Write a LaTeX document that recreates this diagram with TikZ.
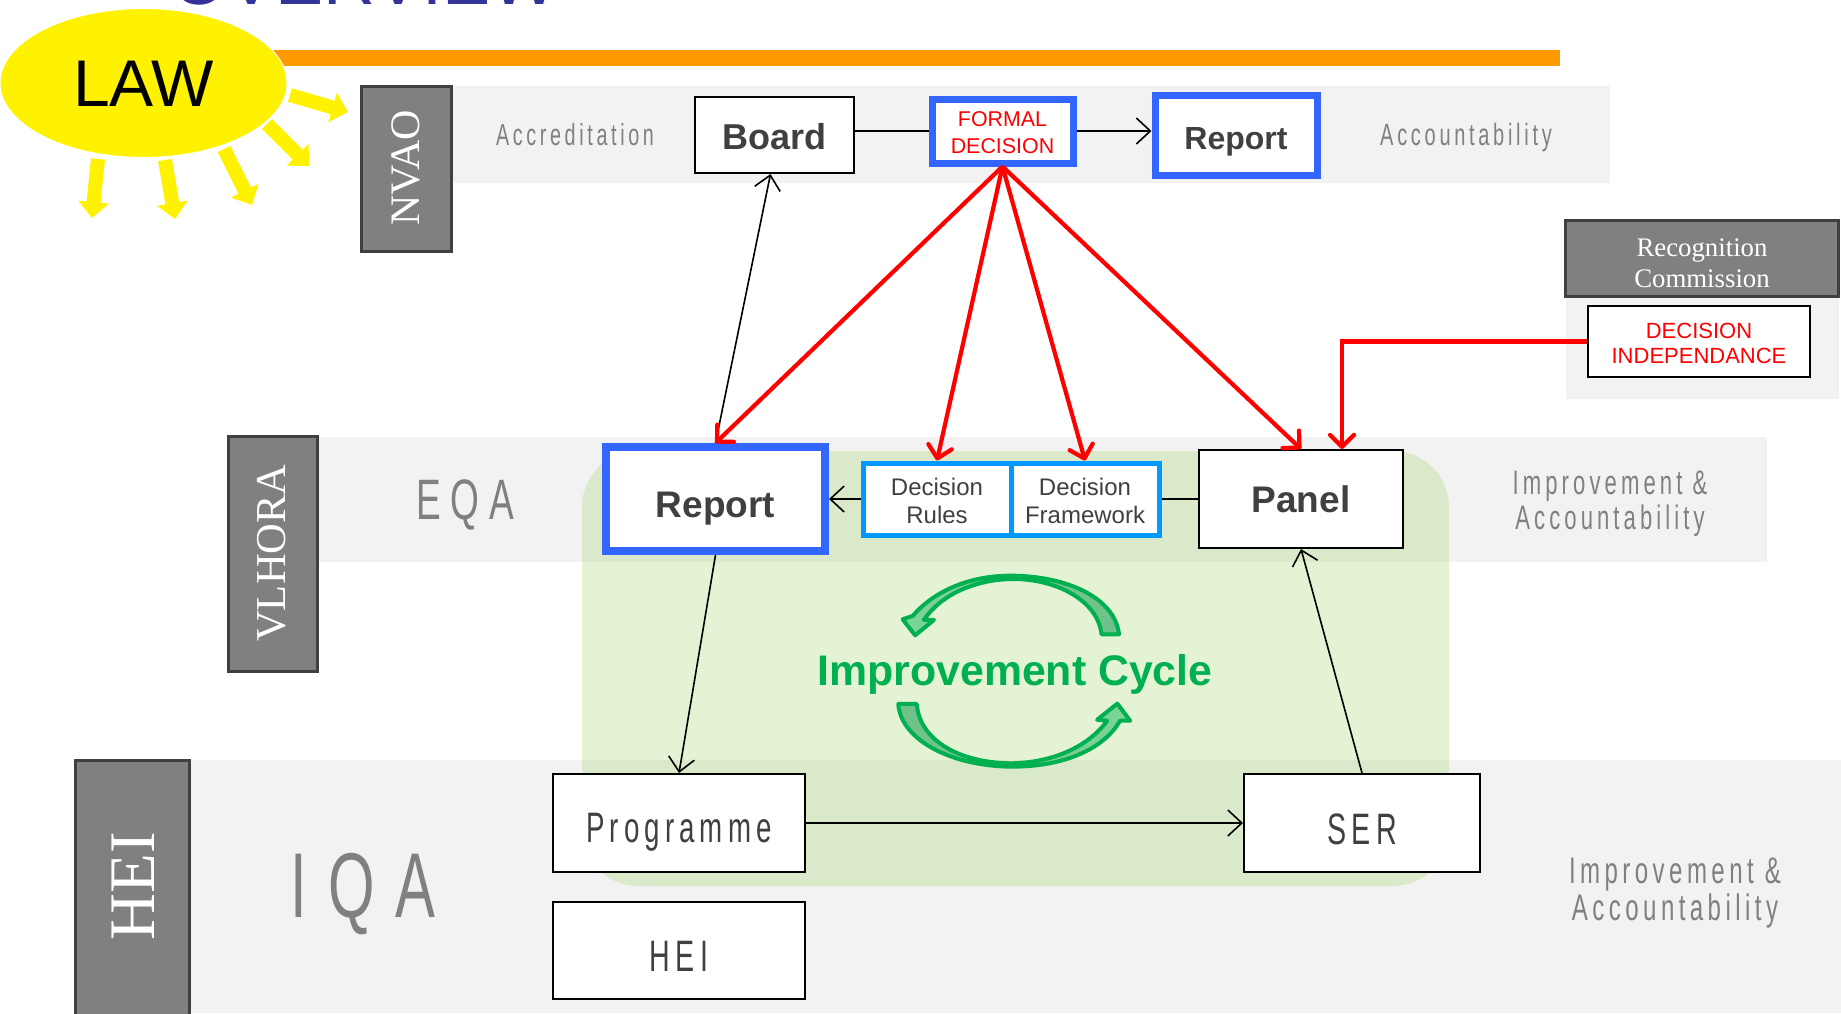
\documentclass[tikz,border=0pt]{standalone}
\usepackage{fontspec}
\usetikzlibrary{arrows.meta,calc,shapes.geometric}
\setmainfont{Liberation Sans}
\newfontfamily\serifx{Liberation Serif}
\newfontfamily\condx[FakeStretch=0.65,LetterSpace=12]{Liberation Sans}
\newfontfamily\condm[FakeStretch=0.65,LetterSpace=17]{Liberation Sans}
\newfontfamily\condl[FakeStretch=0.65,LetterSpace=23]{Liberation Sans}
\definecolor{bandgray}{HTML}{F2F2F2}
\definecolor{labelgray}{HTML}{808080}
\definecolor{darktext}{HTML}{404040}
\definecolor{boxgray}{HTML}{808080}
\definecolor{boxedge}{HTML}{404040}
\definecolor{orangebar}{HTML}{FF9900}
\definecolor{frameblue}{HTML}{3366FF}
\definecolor{lightblue}{HTML}{0099FF}
\definecolor{cyclegreen}{HTML}{00B050}
\definecolor{titleblue}{HTML}{333399}
\definecolor{cyclebg}{HTML}{92D050}
\definecolor{cycletail}{HTML}{6FC08A}
\definecolor{cyclehead}{HTML}{7BD597}
\newcommand{\dn}[2]{\raisebox{-#1}[0pt][0pt]{#2}}
\tikzset{
  band/.style={fill=bandgray,draw=none},
  orgbox/.style={draw=boxedge,fill=boxgray,line width=1.5pt,text=white,inner sep=0pt},
  plainbox/.style={draw=black,fill=white,line width=1pt,align=center,inner sep=0pt},
  bluebox/.style={draw=frameblue,fill=white,line width=3.5pt,align=center,inner sep=0pt,text=darktext},
  rulebox/.style={draw=lightblue,fill=white,line width=2.5pt,align=center,inner sep=0pt,text=darktext},
  graylabel/.style={text=labelgray,align=center,inner sep=0pt},
  conn/.style={draw=black,line width=0.8pt},
  connarrow/.style={conn,-{Straight Barb[length=7pt,width=13pt,line width=0.8pt]}},
  redarrow/.style={draw=red,line width=2.1pt,-{Straight Barb[length=6pt,width=12pt,line width=2.1pt,round]}},
  sunray/.style={draw=yellow,line width=7pt,-{Triangle[length=8pt,width=15pt,fill=yellow]}},
  cyclearrow/.style={draw=cyclegreen,line width=2pt,line join=round}
}
\begin{document}
\begin{tikzpicture}[x=0.5pt,y=-0.5pt]
\useasboundingbox (0,0) rectangle (1841,1013);
\clip (0,0) rectangle (1841,1013);
\fill[white] (0,0) rectangle (1841,1013);
% title clipped by the top of the page
\node[anchor=base,text=titleblue,inner sep=0pt,font=\fontsize{36}{36}\selectfont] (title) at (365,4) {OVERVIEW};
% orange rule
\fill[orangebar] (271,50) rectangle (1560,66);
% bands
\fill[band] (451,86) rectangle (1610,183);
\fill[band] (317,437) rectangle (1767,562);
\fill[band] (189,760) rectangle (1841,1013);
\fill[band] (1566,296) rectangle (1839,399);
% green improvement area
\fill[cyclebg,opacity=0.25,rounded corners=28pt] (582,451) rectangle (1449,886);
% law sun
\coordinate (r1a) at (290,95);  \coordinate (r1b) at (348,112);
\coordinate (r2a) at (267,124); \coordinate (r2b) at (309,166);
\coordinate (r3a) at (224,149); \coordinate (r3b) at (252,205);
\coordinate (r4a) at (165,160); \coordinate (r4b) at (175,219);
\coordinate (r5a) at (98,159);  \coordinate (r5b) at (92,218);
\draw[sunray] (r1a) -- (r1b);
\draw[sunray] (r2a) -- (r2b);
\draw[sunray] (r3a) -- (r3b);
\draw[sunray] (r4a) -- (r4b);
\draw[sunray] (r5a) -- (r5b);
\node[ellipse,fill=yellow,draw=white,line width=0.5pt,minimum width=143.5pt,minimum height=74.5pt,inner sep=0pt,font=\fontsize{33}{33}\selectfont] (law) at (143.5,83) {\dn{11.8pt}{LAW}};
% organisation boxes
\node[orgbox,minimum width=45pt,minimum height=82.5pt] (nvao) at (406,168.5) {};
\node[text=white,rotate=90,inner sep=0pt,font=\serifx\fontsize{21}{21}\selectfont] (nvaot) at (406,168) {NVAO};
\node[orgbox,minimum width=44.5pt,minimum height=117.5pt] (vlhora) at (272.5,553.5) {};
\node[text=white,rotate=90,inner sep=0pt,font=\serifx\fontsize{21.3}{21.3}\selectfont] (vlhorat) at (272,553) {VLHORA};
\node[orgbox,minimum width=57pt,minimum height=140pt] (hei) at (132,900) {};
\node[text=white,rotate=90,inner sep=0pt,font=\serifx\fontsize{32.5}{32.5}\selectfont] (heit) at (133,886) {HEI};
\node[orgbox,minimum width=136.5pt,minimum height=38pt] (recog) at (1702,258) {};
\node[text=white,align=center,inner sep=0pt,font=\serifx\fontsize{13.4}{15.3}\selectfont] (recogt) at (1702,263) {Recognition\\Commission};
% side labels
\node[graylabel,font=\condx\fontsize{15.2}{15.2}\selectfont] (accr) at (575,135) {Accreditation};
\node[graylabel,font=\condx\fontsize{15.4}{15.4}\selectfont] (acco) at (1466,137.5) {Accountability};
\node[graylabel,font=\condm\fontsize{28.5}{28.5}\selectfont] (eqa) at (465,505) {EQA};
\node[graylabel,font=\condl\fontsize{46}{46}\selectfont] (iqa) at (363,894) {IQA};
\node[graylabel,font=\condx\fontsize{17}{17.7}\selectfont] (ia1) at (1610,503.5) {Improvement \&\\Accountability};
\node[graylabel,font=\condx\fontsize{18.5}{18.5}\selectfont] (ia2) at (1675,893) {Improvement \&\\Accountability};
% process boxes
\node[plainbox,minimum width=79.5pt,minimum height=38pt,text=darktext,font=\bfseries\fontsize{18}{18}\selectfont] (board) at (774.5,135) {\dn{7.2pt}{Board}};
\node[bluebox,minimum width=70.5pt,minimum height=32pt,text=red,font=\fontsize{10.7}{13.5}\selectfont] (formal) at (1002.5,131) {\rule{0pt}{9.5pt}FORMAL\\DECISION};
\node[bluebox,minimum width=81pt,minimum height=40pt,font=\bfseries\fontsize{16}{16}\selectfont] (rep1) at (1236,135) {\dn{7pt}{Report}};
\node[plainbox,minimum width=111pt,minimum height=35.5pt,text=red,font=\fontsize{11}{12.5}\selectfont] (indep) at (1699,341.5) {\rule{0pt}{9.6pt}DECISION\\INDEPENDANCE};
\node[bluebox,line width=4pt,minimum width=109.5pt,minimum height=52pt,font=\bfseries\fontsize{18.5}{18.5}\selectfont] (rep2) at (715.5,499) {\dn{9.3pt}{Report}};
\node[rulebox,minimum width=74pt,minimum height=36pt,font=\fontsize{12}{14}\selectfont] (rules) at (937,499) {\rule{0pt}{11pt}Decision\\Rules};
\node[rulebox,minimum width=74pt,minimum height=36pt,font=\fontsize{12}{14}\selectfont] (frame) at (1085,499) {\rule{0pt}{11pt}Decision\\Framework};
\node[plainbox,minimum width=102pt,minimum height=49pt,text=darktext,font=\bfseries\fontsize{18.5}{18.5}\selectfont] (panel) at (1301,499) {\dn{6.8pt}{Panel}};
\node[plainbox,minimum width=126pt,minimum height=49pt,text=darktext,font=\condx\fontsize{21.3}{21.3}\selectfont] (prog) at (679,823) {\dn{9.9pt}{Programme}};
\node[plainbox,minimum width=126pt,minimum height=48.5pt,text=darktext,font=\condx\fontsize{22}{22}\selectfont] (heibox) at (679,950.5) {\dn{10.5pt}{HEI}};
\node[plainbox,minimum width=118pt,minimum height=49pt,text=darktext,font=\condx\fontsize{22}{22}\selectfont] (ser) at (1362,823) {\dn{10.5pt}{SER}};
% black connectors
\draw[conn] (board.east |- formal.west) -- (formal.west);
\draw[connarrow] (formal.east) -- (rep1.west |- formal.east);
\draw[connarrow] (rep2.north) -- ([xshift=-2pt]board.south);
\draw[connarrow] (rules.west) -- (rep2.east);
\draw[conn] (frame.east) -- (panel.west |- frame.east);
\draw[connarrow] (rep2.south) -- (prog.north);
\draw[connarrow] (ser.north) -- (panel.south);
\draw[connarrow] (prog.east) -- (ser.west);
% red connectors
\draw[redarrow] (formal.south) -- (rep2.north);
\draw[redarrow] (formal.south) -- (rules.north);
\draw[redarrow] (formal.south) -- (frame.north);
\draw[redarrow] (formal.south) -- (panel.north);
\coordinate (pin) at (1342,449);
\draw[redarrow] (indep.west) -| (pin);
% improvement cycle
\node[text=cyclegreen,inner sep=0pt,font=\bfseries\fontsize{21.4}{21.4}\selectfont] (cycle) at (1015,674) {Improvement Cycle};
\begin{scope}[shift={(783,440)},xscale=0.337,yscale=0.335]
\path[cyclearrow,left color=cyclehead,right color=cycletail]
  (997,580) .. controls (985,470) and (840,405) .. (675,405)
  .. controls (540,405) and (440,460) .. (385,525)
  -- (355,535) -- (392,583) -- (448,537) -- (418,537)
  .. controls (470,460) and (570,418) .. (675,415)
  .. controls (810,412) and (935,480) .. (945,580) -- cycle;
\path[cyclearrow,left color=cycletail,right color=cyclehead]
  (342,788) .. controls (350,900) and (510,975) .. (680,975)
  .. controls (830,975) and (950,925) .. (1000,838)
  -- (1030,838) -- (992,787) -- (932,835) -- (962,838)
  .. controls (910,910) and (810,962) .. (680,965)
  .. controls (530,965) and (405,900) .. (397,788) -- cycle;
\end{scope}
\end{tikzpicture}
\end{document}
